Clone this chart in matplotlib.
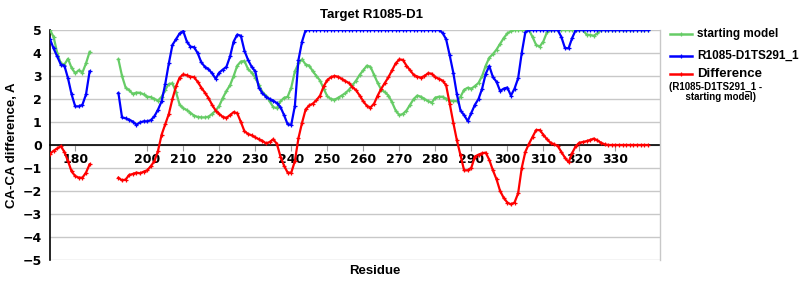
import numpy as np
import matplotlib
matplotlib.use("Agg")
import matplotlib.pyplot as plt
from matplotlib.lines import Line2D

# ---------------- data ----------------
res_seg1 = list(range(173, 185))
res_gap = list(range(185, 192))
res_seg2 = list(range(192, 340))

green_seg1 = [5.0, 4.7, 4.0, 3.55, 3.5, 3.75, 3.35, 3.12, 3.25, 3.15, 3.55, 4.05]
blue_seg1 = [4.6, 4.2, 3.85, 3.5, 3.45, 2.9, 2.2, 1.68, 1.68, 1.75, 2.2, 3.2]
red_seg1 = [-0.38, -0.25, -0.15, -0.05, -0.3, -0.7, -1.15, -1.35, -1.42, -1.42, -1.2, -0.84]

green_seg2 = [
    3.72, 3.0, 2.5, 2.38, 2.22, 2.28, 2.27, 2.2, 2.1, 2.08,      # 192-201
    2.0, 1.93, 2.1, 2.4, 2.65, 2.68, 2.3, 1.75, 1.6, 1.52,      # 202-211
    1.4, 1.28, 1.22, 1.2, 1.2, 1.23, 1.35, 1.5, 1.7, 2.05,      # 212-221
    2.35, 2.6, 3.0, 3.45, 3.63, 3.65, 3.3, 3.15, 2.93, 2.62,    # 222-231
    2.3, 2.15, 1.9, 1.65, 1.6, 1.9, 2.05, 2.1, 2.5, 3.2,        # 232-241
    3.55, 3.72, 3.5, 3.45, 3.2, 3.0, 2.8, 2.45, 2.12, 2.0,      # 242-251
    1.97, 2.05, 2.15, 2.25, 2.4, 2.6, 2.8, 3.05, 3.25, 3.45,    # 252-261
    3.4, 3.05, 2.7, 2.4, 2.3, 2.15, 1.85, 1.5, 1.3, 1.35,       # 262-271
    1.5, 1.75, 2.0, 2.15, 2.1, 2.0, 1.91, 1.84, 2.06, 2.1,      # 272-281
    2.1, 2.0, 1.93, 1.91, 1.91, 2.1, 2.4, 2.49, 2.45, 2.56,     # 282-291
    2.7, 3.0, 3.45, 3.8, 3.95, 4.15, 4.4, 4.65, 4.85, 4.95,     # 292-301
    5.0, 5.0, 5.0, 5.0, 5.0, 4.7, 4.35, 4.28, 4.5, 4.9,         # 302-311
    5.0, 5.0, 5.0, 5.0, 5.0, 5.0, 5.0, 5.0, 5.0, 5.0,           # 312-321
    4.8, 4.78, 4.75, 4.85, 5.0, 5.0, 5.0, 5.0, 5.0, 5.0,        # 322-331
    5.0, 5.0, 5.0, 5.0, 5.0, 5.0, 5.0, 5.0,                     # 332-339
]

blue_seg2 = [
    2.26, 1.2, 1.16, 1.1, 1.02, 0.88, 0.98, 1.03, 1.03, 1.08,   # 192-201
    1.25, 1.54, 1.9, 2.65, 3.55, 4.35, 4.6, 4.85, 4.95, 4.5,    # 202-211
    4.28, 4.25, 4.0, 3.6, 3.4, 3.3, 3.12, 2.88, 3.15, 3.28,     # 212-221
    3.4, 3.85, 4.5, 4.8, 4.75, 4.1, 3.7, 3.4, 3.2, 2.5,         # 222-231
    2.25, 2.1, 2.0, 1.93, 1.82, 1.65, 1.3, 0.9, 0.88, 1.7,      # 232-241
    3.7, 4.5, 5.0, 5.0, 5.0, 5.0, 5.0, 5.0, 5.0, 5.0,           # 242-251
    5.0, 5.0, 5.0, 5.0, 5.0, 5.0, 5.0, 5.0, 5.0, 5.0,           # 252-261
    5.0, 5.0, 5.0, 5.0, 5.0, 5.0, 5.0, 5.0, 5.0, 5.0,           # 262-271
    5.0, 5.0, 5.0, 5.0, 5.0, 5.0, 5.0, 5.0, 5.0, 5.0,           # 272-281
    4.88, 4.6, 3.9, 3.14, 2.2, 1.5, 1.3, 1.04, 1.4, 1.75,       # 282-291
    2.0, 2.45, 3.1, 3.43, 2.95, 2.75, 2.35, 2.45, 2.5, 2.15,    # 292-301
    2.45, 2.9, 4.0, 4.9, 5.0, 5.0, 5.0, 5.0, 5.0, 5.0,          # 302-311
    5.0, 5.0, 5.0, 4.7, 4.22, 4.2, 4.65, 5.0, 5.0, 5.0,         # 312-321
    5.0, 5.0, 5.0, 5.0, 5.0, 5.0, 5.0, 5.0, 5.0, 5.0,           # 322-331
    5.0, 5.0, 5.0, 5.0, 5.0, 5.0, 5.0, 5.0,                     # 332-339
]

red_seg2 = [
    -1.42, -1.54, -1.5, -1.3, -1.26, -1.2, -1.23, -1.16, -1.1, -0.92,   # 192-201
    -0.7, -0.25, 0.45, 0.9, 1.35, 2.0, 2.55, 2.93, 3.07, 3.03,          # 202-211
    2.97, 2.95, 2.75, 2.5, 2.28, 2.05, 1.75, 1.5, 1.35, 1.22,           # 212-221
    1.18, 1.3, 1.43, 1.38, 1.0, 0.6, 0.48, 0.42, 0.33, 0.25,            # 222-231
    0.18, 0.07, 0.13, 0.25, 0.05, -0.5, -0.9, -1.2, -1.2, -0.7,         # 232-241
    0.3, 0.97, 1.55, 1.72, 1.8, 1.95, 2.15, 2.55, 2.82, 2.95,           # 242-251
    3.0, 2.97, 2.88, 2.78, 2.7, 2.52, 2.38, 2.15, 1.9, 1.7,             # 252-261
    1.63, 1.8, 2.15, 2.45, 2.7, 2.95, 3.25, 3.55, 3.72, 3.7,            # 262-271
    3.45, 3.25, 3.05, 2.97, 2.93, 3.0, 3.12, 3.1, 2.95, 2.88,           # 272-281
    2.8, 2.6, 1.8, 0.97, 0.2, -0.45, -1.1, -1.1, -0.99, -0.5,           # 282-291
    -0.42, -0.36, -0.33, -0.65, -1.1, -1.49, -2.0, -2.3, -2.5, -2.58,   # 292-301
    -2.5, -2.1, -1.0, -0.3, 0.05, 0.35, 0.65, 0.65, 0.45, 0.25,         # 302-311
    0.1, 0.03, -0.04, -0.3, -0.55, -0.75, -0.35, -0.05, 0.1, 0.13,      # 312-321
    0.17, 0.22, 0.28, 0.2, 0.1, 0.03, 0.0, 0.0, 0.0, 0.0,               # 322-331
    0.0, 0.0, 0.0, 0.0, 0.0, 0.0, 0.0, 0.0,                             # 332-339
]

series_names = ["starting model", "R1085-D1TS291_1", "Difference"]
diff_note = "(R1085-D1TS291_1 -\n      starting model)"
title = "Target R1085-D1"
ylabel = "CA-CA difference, A"
xlabel = "Residue"

# ---------------- assemble with gap ----------------
gap_vals = [np.nan] * len(res_gap)
residues = np.array(res_seg1 + res_gap + res_seg2)
green = np.array(green_seg1 + gap_vals + green_seg2)
blue = np.array(blue_seg1 + gap_vals + blue_seg2)
red = np.array(red_seg1 + gap_vals + red_seg2)

c_green = "#66CC66"
c_blue = "#0000FF"
c_red = "#FF0000"

plt.rcParams["font.family"] = ["Liberation Sans", "DejaVu Sans"]

fig = plt.figure(figsize=(8, 3), dpi=100)
ax = fig.add_axes([50 / 800, 40 / 300, 610 / 800, 230 / 300])

for vals, col in [(green, c_green), (blue, c_blue), (red, c_red)]:
    ax.plot(residues, vals, color=col, lw=1.6, marker="+", ms=3, mew=0.9,
            solid_joinstyle="round", zorder=3)

ax.set_xlim(173, 342.4)
ax.set_ylim(-5, 5)

ax.set_yticks(range(-5, 6))
ax.yaxis.grid(True, color="#c8c8c8", lw=1.0, zorder=0)
ax.set_axisbelow(True)

present = [r for r, g in zip(residues, green) if r % 10 == 0 and not np.isnan(g)]
ax.set_xticks(present)
ax.set_xticklabels([str(r) for r in present])

ax.spines["bottom"].set_position(("data", 0))
ax.spines["bottom"].set_color("black")
ax.spines["bottom"].set_linewidth(1.2)
ax.spines["bottom"].set_zorder(2)
ax.spines["left"].set_color("black")
ax.spines["left"].set_linewidth(1.2)
ax.spines["top"].set_visible(False)
ax.spines["right"].set_color("#c8c8c8")
ax.spines["right"].set_linewidth(1.0)

ax.tick_params(axis="x", direction="out", length=4, width=0.8, color="#999999",
               pad=2, labelsize=9)
ax.tick_params(axis="y", length=0, pad=6, labelsize=9)
for lab in ax.get_xticklabels():
    lab.set_fontfamily("DejaVu Sans")
    lab.set_fontweight("bold")
for lab in ax.get_yticklabels():
    lab.set_fontfamily("DejaVu Sans")
    lab.set_fontweight("bold")

fig.text(371 / 800, 1 - 15 / 300, title, ha="center", va="center",
         fontsize=9.5, fontweight="bold")
fig.text(12 / 800, 1 - 145 / 300, ylabel, ha="center", va="center",
         rotation=90, fontsize=9.5, fontweight="bold")
fig.text(375 / 800, 1 - 271 / 300, xlabel, ha="center", va="center",
         fontsize=9.5, fontweight="bold")

# ---------------- legend ----------------
leg_rows = [(series_names[0], c_green, 34), (series_names[1], c_blue, 56),
            (series_names[2], c_red, 74)]
for name, col, ypx in leg_rows:
    yy = 1 - ypx / 300
    fig.add_artist(Line2D([670 / 800, 692 / 800], [yy, yy], color=col, lw=1.8,
                          transform=fig.transFigure))
    fig.add_artist(Line2D([681 / 800], [yy], color=col, marker="+", ms=3,
                          mew=0.9, transform=fig.transFigure))
    fig.text(697 / 800, yy, name, ha="left", va="center",
             fontsize=9.5 if name == "Difference" else 8.5, fontweight="bold")
fig.text(669 / 800, 1 - 92 / 300, diff_note, ha="left", va="center",
         fontsize=7, fontweight="bold", linespacing=1.05)

fig.savefig("out.png", dpi=100)
